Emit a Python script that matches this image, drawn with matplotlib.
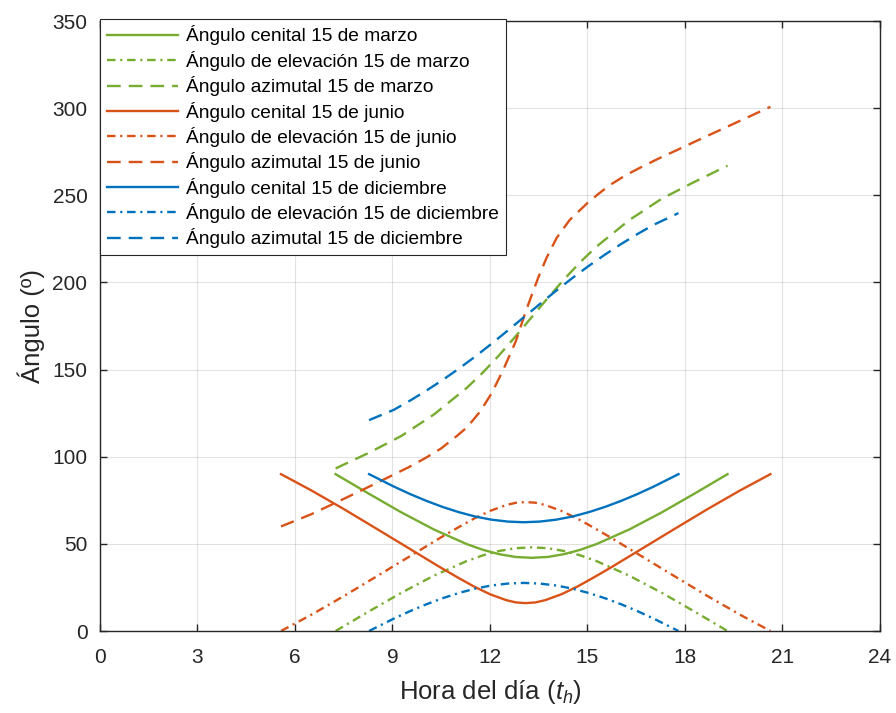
import matplotlib
matplotlib.use("Agg")
import matplotlib.pyplot as plt

# 15 de marzo
t_marzo = [7.25, 8.28, 9.28, 10.28, 11.28, 11.78, 12.28, 12.78, 13.28,
           13.78, 14.28, 14.78, 15.28, 16.28, 17.28, 18.28, 19.31]
cenital_marzo = [90, 78.7, 68.0, 58.2, 49.9, 46.6, 44.1, 42.5, 42.0,
                 42.5, 44.1, 46.6, 49.9, 58.2, 68.0, 78.7, 90]
elevacion_marzo = [0, 11.3, 22.0, 31.8, 40.1, 43.4, 45.9, 47.5, 48.0,
                   47.5, 45.9, 43.4, 40.1, 31.8, 22.0, 11.3, 0]
azimut_marzo = [93.3, 102.3, 112.0, 124.3, 139.4, 148.3, 158.2, 168.9, 180.0,
                191.1, 201.8, 211.7, 220.6, 235.7, 248.0, 257.6, 267.0]

# 15 de junio
t_junio = [5.57, 6.5, 7.5, 8.5, 9.5, 10.5, 11.0, 11.5, 12.0, 12.5, 12.8, 13.1,
           13.4, 13.7, 14.2, 14.7, 15.2, 15.7, 16.7, 17.7, 18.7, 19.7, 20.63]
cenital_junio = [90, 80.7, 70.0, 58.8, 47.5, 36.2, 30.8, 25.6, 21.1, 17.7, 16.4, 16.0,
                 16.4, 17.7, 21.1, 25.6, 30.8, 36.2, 47.5, 58.8, 70.0, 80.7, 90]
elevacion_junio = [0, 9.3, 20.0, 31.2, 42.5, 53.8, 59.2, 64.4, 68.9, 72.3, 73.6, 74.0,
                   73.6, 72.3, 68.9, 64.4, 59.2, 53.8, 42.5, 31.2, 20.0, 9.3, 0]
t_junio_az = [5.57, 6.5, 7.5, 8.5, 9.5, 10.0, 10.5, 11.0, 11.3, 11.7, 12.05, 12.4,
              12.8, 13.08, 13.28, 13.5, 13.75, 14.05, 14.45, 15.0, 15.35, 15.7,
              16.2, 16.7, 17.2, 17.7, 18.7, 19.7, 20.63]
azimut_junio = [60.0, 67.0, 75.8, 84.8, 94.0, 99.1, 104.8, 112.2, 117.0, 126.0, 136.4, 149.5,
                166.5, 182.3, 192.5, 203.5, 214.5, 225.5, 235.8, 245.6, 251.0, 256.0,
                261.8, 266.6, 271.2, 275.5, 284.2, 292.8, 300.8]

# 15 de diciembre
t_diciembre = [8.28, 9.04, 9.54, 10.04, 10.54, 11.04, 11.54, 12.04, 12.54, 13.04,
               13.54, 14.04, 14.54, 15.04, 15.54, 16.04, 16.54, 17.04, 17.80]
cenital_diciembre = [90, 82.9, 78.6, 74.7, 71.2, 68.2, 65.7, 63.9, 62.8, 62.4,
                     62.8, 63.9, 65.7, 68.2, 71.2, 74.7, 78.6, 82.9, 90]
elevacion_diciembre = [0, 7.1, 11.4, 15.3, 18.8, 21.8, 24.3, 26.1, 27.2, 27.6,
                       27.2, 26.1, 24.3, 21.8, 18.8, 15.3, 11.4, 7.1, 0]
azimut_diciembre = [121.0, 126.9, 132.2, 137.9, 144.0, 150.5, 157.4, 164.7, 172.3, 180.0,
                    187.7, 195.3, 202.6, 209.5, 216.0, 222.1, 227.8, 233.1, 239.8]

x_ticks = [0, 3, 6, 9, 12, 15, 18, 21, 24]
y_ticks = [0, 50, 100, 150, 200, 250, 300, 350]

verde = "#77AC30"
naranja = "#D95319"
azul = "#0072BD"
eje = "#262626"

solid = "-"
dashdot = (0, (3.6, 2.0, 0.9, 2.0))
dashed = (0, (5.8, 3.4))

plt.rcParams["font.family"] = ["Liberation Sans", "DejaVu Sans"]
plt.rcParams["mathtext.fontset"] = "custom"
plt.rcParams["mathtext.it"] = "Liberation Sans:italic"
plt.rcParams["mathtext.rm"] = "Liberation Sans"

fig = plt.figure(figsize=(8.96, 7.13), dpi=100)
ax = fig.add_axes([0.1116, 0.115, 0.8705, 0.8555])

series = [
    (t_marzo, cenital_marzo, verde, solid, "Ángulo cenital 15 de marzo"),
    (t_marzo, elevacion_marzo, verde, dashdot, "Ángulo de elevación 15 de marzo"),
    (t_marzo, azimut_marzo, verde, dashed, "Ángulo azimutal 15 de marzo"),
    (t_junio, cenital_junio, naranja, solid, "Ángulo cenital 15 de junio"),
    (t_junio, elevacion_junio, naranja, dashdot, "Ángulo de elevación 15 de junio"),
    (t_junio_az, azimut_junio, naranja, dashed, "Ángulo azimutal 15 de junio"),
    (t_diciembre, cenital_diciembre, azul, solid, "Ángulo cenital 15 de diciembre"),
    (t_diciembre, elevacion_diciembre, azul, dashdot, "Ángulo de elevación 15 de diciembre"),
    (t_diciembre, azimut_diciembre, azul, dashed, "Ángulo azimutal 15 de diciembre"),
]

for x, y, color, ls, label in series:
    ax.plot(x, y, color=color, linestyle=ls, linewidth=1.7, label=label)

ax.set_xlim(0, 24)
ax.set_ylim(0, 350)
ax.set_xticks(x_ticks)
ax.set_yticks(y_ticks)
ax.grid(True, color="#262626", alpha=0.13, linewidth=0.8)
ax.set_axisbelow(True)

for spine in ax.spines.values():
    spine.set_color(eje)
    spine.set_linewidth(1.0)

ax.tick_params(axis="both", direction="in", length=5, width=1.0, colors=eje,
               labelsize=15, top=True, right=True)
ax.tick_params(axis="x", pad=12)
ax.tick_params(axis="y", pad=9)

ax.set_xlabel(r"Hora del día $\mathit{(t_h)}$", fontsize=18.5, color=eje, labelpad=8)
ax.set_ylabel("Ángulo (º)", fontsize=18.5, color=eje, labelpad=5)

leg = ax.legend(loc="upper left", bbox_to_anchor=(0, 1.004), borderaxespad=0,
                fontsize=13.8, handlelength=3.7, handletextpad=0.42,
                labelspacing=0.28, borderpad=0.36, fancybox=False,
                framealpha=1, edgecolor=eje)
leg.get_frame().set_linewidth(0.8)

fig.savefig("out.png", dpi=100)
plt.close(fig)
